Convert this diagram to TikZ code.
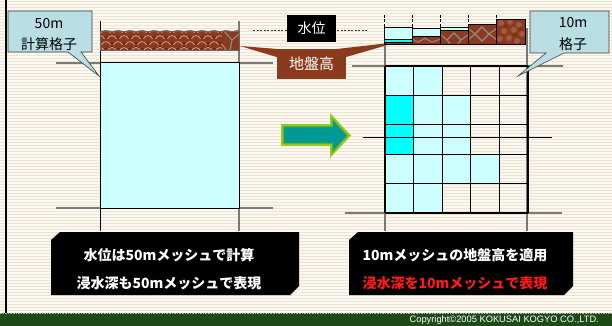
\documentclass[tikz,border=0pt]{standalone}
\usepackage{fontspec}
\setmainfont{Liberation Sans}
\newfontfamily\jp{Noto Sans CJK JP}
\definecolor{bgbase}{HTML}{FBF7F1}
\definecolor{bgstripe}{HTML}{EDE3D3}
\definecolor{bandgreen}{HTML}{1D4A17}
\definecolor{linegray}{HTML}{7A7A7A}
\definecolor{lcyan}{HTML}{CCFFFF}
\definecolor{bcyan}{HTML}{00FFFF}
\definecolor{calloutblue}{HTML}{B9DEE4}
\definecolor{earth}{HTML}{8B3A1E}
\definecolor{earthdark}{HTML}{74301A}
\definecolor{earthlight}{HTML}{B0654A}
\definecolor{earthhi}{HTML}{D9A085}
\definecolor{crack}{HTML}{8E8E8E}
\definecolor{labelbrown}{HTML}{8C3A1D}
\definecolor{arrowteal}{HTML}{009A96}
\definecolor{arrowyg}{HTML}{9ACD10}
\definecolor{arrowmid}{HTML}{5FAE3A}
\definecolor{redtext}{HTML}{FF1A1A}
\tikzset{
  grayline/.style={draw=linegray, line width=1.2},
  blkline/.style={draw=black, line width=0.8},
  gridline/.style={draw=black, line width=1.3},
  callout/.style={fill=calloutblue, draw=black!75, line width=0.6},
  ctext/.style={font=\jp\fontsize{14}{16}\selectfont, text=black, inner sep=0pt},
  wtext/.style={font=\jp\bfseries\fontsize{14}{16}\selectfont, text=white, inner sep=0pt},
  rtext/.style={font=\jp\bfseries\fontsize{14}{16}\selectfont, text=redtext, inner sep=0pt},
  blacklabel/.style={fill=black, text=white, font=\jp\fontsize{14}{16}\selectfont, minimum width=49pt, minimum height=27pt, inner sep=0pt},
  brownlabel/.style={fill=labelbrown, text=white, font=\jp\fontsize{15}{17}\selectfont, minimum width=69pt, minimum height=30pt, inner sep=0pt},
  crackline/.style={draw=crack, line width=1.1},
  bar/.style={draw=black, line width=0.7},
  tick/.style={draw=black, line width=0.7, dash pattern=on 3pt off 1.5pt},
}
\begin{document}
\begin{tikzpicture}[x=1pt,y=-1pt]
\useasboundingbox (0,0) rectangle (612,326);
% background
\fill[bgbase] (0,0) rectangle (612,326);
\foreach \yy in {1,4,...,312} \fill[bgstripe] (0,\yy) rectangle (612,\yy+1.3);
\fill[black] (5,0) rectangle (7,313);
% footer
\fill[bandgreen] (0,313) rectangle (612,326);
\draw[gray!60, densely dotted, line width=1.6] (0,313.6) -- (612,313.6);
\node[anchor=east, text=white, font=\fontsize{9.3}{10}\selectfont, inner sep=0pt] (copy) at (599,320) {Copyright©2005 KOKUSAI KOGYO CO.,LTD.};

% ===== left diagram =====
\draw[blkline] (100,21) -- (100,231);
\draw[grayline] (239,21) -- (239,231);
\draw[grayline] (56,63) -- (273,63);
\draw[grayline] (56,208) -- (273,208);
\filldraw[fill=lcyan, draw=black, line width=1] (100,63) rectangle (239,208);

% left ground band
\begin{scope}
\clip (100,31) rectangle (239,50);
\fill[earthdark] (100,31) rectangle (239,50);
\foreach \ry/\off in {27/0, 33/6, 39/0, 45/6}{
  \foreach \xx in {88,100,...,232}{
    \fill[earth] (\xx+\off,\ry+9) .. controls (\xx+\off+0.5,\ry) and (\xx+\off+11.5,\ry) .. (\xx+\off+12,\ry+9) -- cycle;
    \draw[earthhi, line width=0.8] (\xx+\off+1.5,\ry+6) .. controls (\xx+\off+3,\ry+1.5) and (\xx+\off+9,\ry+1.5) .. (\xx+\off+10.5,\ry+6);
  }
}
\fill[earth] (222,31) rectangle (239,50);
\draw[crackline] (224,31) -- (232,40) -- (239,34);
\draw[crackline] (232,40) -- (230,50);
\draw[crackline] (222,44) -- (226,50);
\end{scope}
\draw[draw=black!60, line width=0.5] (100,31) rectangle (239,50);

% labels 水位 and 地盤高
\draw[draw=black!80, line width=0.6, dash pattern=on 2pt off 1.5pt] (253,30) -- (367,30);
\node[blacklabel] (wl) at (311.5,28.5) {水位};
\fill[labelbrown] (240,46) -- (290,50) -- (290,61) -- cycle;
\fill[labelbrown] (398,42) -- (328,50) -- (346,57) -- cycle;
\node[brownlabel] (gl) at (311.5,64) {地盤高};

% left callout
\filldraw[callout] (8,11) -- (92,11) -- (92,52) -- (81,52) -- (99,76) -- (68,52) -- (8,52) -- cycle;
\node[ctext] (c50a) at (49,24) {50m};
\node[ctext] (c50b) at (49,44) {計算格子};

% ===== arrow =====
\fill[arrowyg] (281,124) -- (330,124) -- (330,113) -- (351,135.5) -- (330,158) -- (330,146) -- (281,146) -- cycle;
\filldraw[fill=arrowteal, draw=arrowmid, line width=1.2] (283.5,126.5) -- (332.5,126.5) -- (332.5,119) -- (347.5,135.5) -- (332.5,152) -- (332.5,143.5) -- (283.5,143.5) -- cycle;

% ===== right diagram =====
\draw[grayline] (385,45) -- (385,231);
\draw[grayline] (527,28) -- (527,231);
\draw[grayline] (352,66) -- (563,66);
\draw[grayline] (345,213) -- (562,213);
% cells
\def\cw{28.6}\def\ch{29.4}
\foreach \r/\c/\col in {0/0/lcyan,0/1/lcyan,1/0/bcyan,1/1/lcyan,1/2/lcyan,2/0/bcyan,2/1/lcyan,2/2/lcyan,3/0/lcyan,3/1/lcyan,3/2/lcyan,3/3/lcyan,4/0/lcyan,4/1/lcyan}
  \fill[\col] (385+\c*\cw,66+\r*\ch) rectangle ++(\cw,\ch);
\foreach \i in {0,...,5}{
  \draw[gridline] (385+\i*\cw,66) -- (385+\i*\cw,213);
  \draw[gridline] (385,66+\i*\ch) -- (528,66+\i*\ch);
}
\draw[blkline] (363,137) -- (552,137);

% right ground bars
\draw[tick] (384,15) -- (384,27);
\draw[tick] (412.2,15) -- (412.2,27);
\draw[tick] (440.4,15) -- (440.4,27);
\draw[tick] (468.6,15) -- (468.6,24);
\draw[tick] (496.8,15) -- (496.8,19);
% cell 1
\fill[lcyan] (384,27) rectangle (412.2,39);
\fill[bcyan] (384,39) rectangle (412.2,42);
\fill[earth] (384,42) rectangle (412.2,44);
\draw[bar] (384,27) rectangle (412.2,44);
\draw[bar] (384,39) -- (412.2,39);
\draw[bar] (384,42) -- (412.2,42);
% cell 2
\fill[lcyan] (412.2,28) rectangle (440.4,36);
\begin{scope}
\clip (412.2,36) rectangle (440.4,44);
\fill[earth] (412.2,36) rectangle (440.4,44);
\draw[crackline] (412,39) -- (418,42) -- (425,38.5) -- (432,42) -- (441,39);
\end{scope}
\draw[bar] (412.2,28) rectangle (440.4,44);
\draw[bar] (412.2,36) -- (440.4,36);
% cell 3
\fill[lcyan] (440.4,27) rectangle (468.6,30);
\begin{scope}
\clip (440.4,30) rectangle (468.6,44);
\fill[earth] (440.4,30) rectangle (468.6,44);
\draw[crackline] (440,34) -- (447,40) -- (454,33) -- (461,40) -- (469,34);
\draw[crackline] (447,40) -- (450,44);
\draw[crackline] (461,40) -- (458,44);
\end{scope}
\draw[bar] (440.4,27) rectangle (468.6,44);
\draw[bar] (440.4,30) -- (468.6,30);
% cell 4
\begin{scope}
\clip (468.6,24) rectangle (496.8,44);
\fill[earth] (468.6,24) rectangle (496.8,44);
\draw[crackline] (468,28) -- (475,34) -- (482,27) -- (489,34) -- (497,28);
\draw[crackline] (468,40) -- (475,34) -- (482,41) -- (489,34) -- (497,40);
\end{scope}
\draw[bar] (468.6,24) rectangle (496.8,44);
% cell 5
\begin{scope}
\clip (496.8,19) rectangle (525,44);
\fill[earth] (496.8,19) rectangle (525,44);
\foreach \px/\py in {501/23,510/22,519/25,504/31,514/30,522/34,500/39,509/38,517/41}
  \fill[earthlight, opacity=0.7] (\px,\py) circle [radius=3pt];
\foreach \px/\py in {506/26,515/35,502/43,521/29}
  \fill[earthdark, opacity=0.6] (\px,\py) circle [radius=2.5pt];
\end{scope}
\draw[bar] (496.8,19) rectangle (525,44);

% right callout
\filldraw[callout] (530,11) -- (609,11) -- (609,53) -- (564,53) -- (518,76) -- (546,53) -- (530,53) -- cycle;
\node[ctext] (c10a) at (573,23) {10m};
\node[ctext] (c10b) at (573,44) {格子};

% ===== bottom boxes =====
\fill[black] (51,240) -- (60,232) -- (299,232) -- (299,286) -- (290,295) -- (51,295) -- cycle;
\node[wtext] (lt1) at (169,255) {水位は50mメッシュで計算};
\node[wtext] (lt2) at (169,283) {浸水深も50mメッシュで表現};
\fill[black] (349,240) -- (358,232) -- (573,232) -- (573,286) -- (564,295) -- (349,295) -- cycle;
\node[wtext] (rt1) at (455,255) {10mメッシュの地盤高を適用};
\node[rtext] (rt2) at (455,283) {浸水深を10mメッシュで表現};
\end{tikzpicture}
\end{document}
